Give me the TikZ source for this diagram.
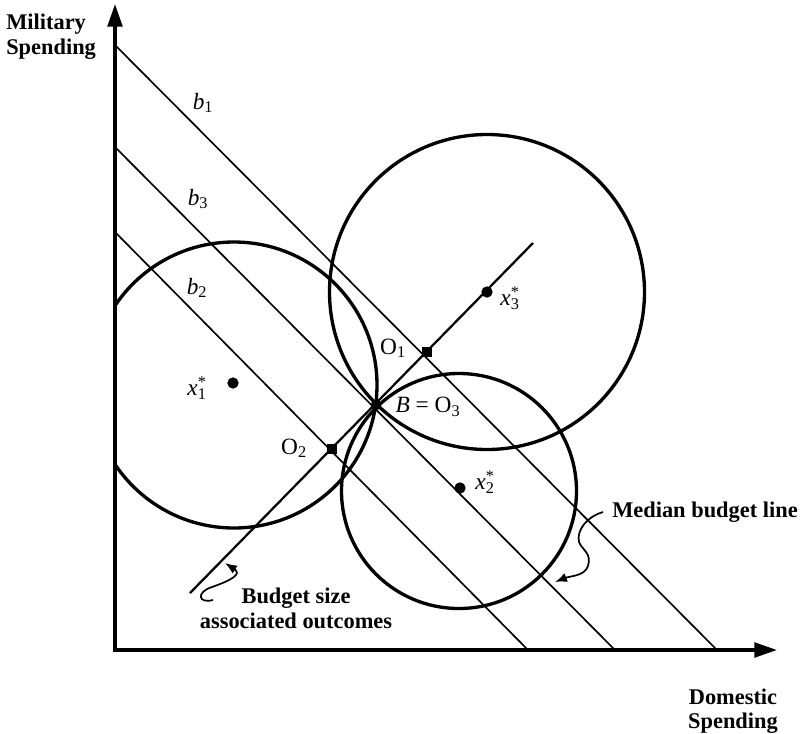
\documentclass[tikz,border=0pt]{standalone}
\usepackage{fontspec}
\setmainfont{Liberation Serif}
\usetikzlibrary{arrows.meta}
\begin{document}
\begin{tikzpicture}[x=0.75pt,y=-0.75pt,
  axis/.style={line width=2.5pt,line join=miter,{Triangle[length=17pt,width=11pt]}-{Triangle[length=17pt,width=11pt]}},
  bline/.style={line width=1.25pt},
  medline/.style={line width=1.7pt},
  pref/.style={line width=2.5pt},
  ptdot/.style={circle,fill,inner sep=0pt,minimum size=8.5pt},
  ptsq/.style={rectangle,fill,inner sep=0pt,minimum size=7pt},
  lab/.style={font=\fontsize{16.8}{19}\selectfont\bfseries,inner sep=0pt},
  mlab/.style={font=\fontsize{17.5}{20}\selectfont,inner sep=0pt},
  wavy/.style={line width=1.3pt,-{Latex[length=9pt,width=7pt]}}]
\useasboundingbox (0,0) rectangle (800,733);

% axes
\coordinate (org) at (115,650);
\coordinate (ytop) at (115,4);
\coordinate (xend) at (777,650);
\draw[axis] (ytop) -- (org) -- (xend);

% budget lines
\coordinate (b1s) at (115,45);  \coordinate (b1e) at (717,650);
\coordinate (b3s) at (115,147); \coordinate (b3e) at (615,650);
\coordinate (b2s) at (115,232); \coordinate (b2e) at (528,650);
\draw[bline] (b1s) -- (b1e);
\draw[bline] (b3s) -- (b3e);
\draw[bline] (b2s) -- (b2e);

% median (budget size) line
\coordinate (m1) at (190,593);
\coordinate (m2) at (533,243);
\draw[medline] (m1) -- (m2);

% circles
\coordinate (c1) at (234,385);
\coordinate (c2) at (459,491);
\coordinate (c3) at (487,292);
\begin{scope}
  \clip (115,0) rectangle (800,733);
  \draw[pref] (c1) circle[radius=143];
\end{scope}
\draw[pref] (c3) circle[radius=157.5];
\draw[pref] (c2) circle[radius=117.5];

% points
\node[ptdot] (x1) at (233,383) {};
\node[ptdot] (x3) at (487,292) {};
\node[ptdot] (x2) at (460,488) {};
\node[ptdot,minimum size=8pt] (B) at (376,405) {};
\node[ptsq] (O1) at (427,352) {};
\node[ptsq] (O2) at (332,449) {};

% math labels
\node[mlab] (lb1) at (203,103) {\textit{b}\textsubscript{1}};
\node[mlab] (lb3) at (198,199) {\textit{b}\textsubscript{3}};
\node[mlab] (lb2) at (197,288) {\textit{b}\textsubscript{2}};
\node[mlab] (lx1) at (197,388) {\textit{x}\rlap{\textsuperscript{*}}\textsubscript{1}};
\node[mlab] (lx3) at (510,298) {\textit{x}\rlap{\textsuperscript{*}}\textsubscript{3}};
\node[mlab] (lx2) at (485,482) {\textit{x}\rlap{\textsuperscript{*}}\textsubscript{2}};
\node[mlab] (lO1) at (393,348) {O\textsubscript{1}};
\node[mlab] (lO2) at (294,448) {O\textsubscript{2}};
\node[mlab] (lB) at (428,407) {\textit{B} = O\textsubscript{3}};

% axis labels
\node[lab,anchor=base west] (mil1) at (6,29) {Military};
\node[lab,anchor=base west] (mil2) at (6,54) {Spending};
\node[lab,anchor=base] (dom1) at (733,704) {Domestic};
\node[lab,anchor=base] (dom2) at (733,728) {Spending};

% annotations
\node[lab,anchor=base] (bs1) at (296,603) {Budget size};
\node[lab,anchor=base] (bs2) at (296,628) {associated outcomes};
\node[lab,anchor=base west] (med) at (612,517) {Median budget line};

\coordinate (bsA) at (213,600);
\coordinate (bsT) at (225,563);
\draw[wavy] (bsA) .. controls (198,604) and (196,592) .. (212,587)
               .. controls (232,580) and (242,574) .. (bsT);
\coordinate (mdA) at (603,512);
\coordinate (mdT) at (555,582);
\draw[wavy] (mdA) .. controls (588,516) and (576,530) .. (579,542)
               .. controls (582,550) and (592,553) .. (588,566)
               .. controls (585,576) and (570,576) .. (mdT);
\end{tikzpicture}
\end{document}
